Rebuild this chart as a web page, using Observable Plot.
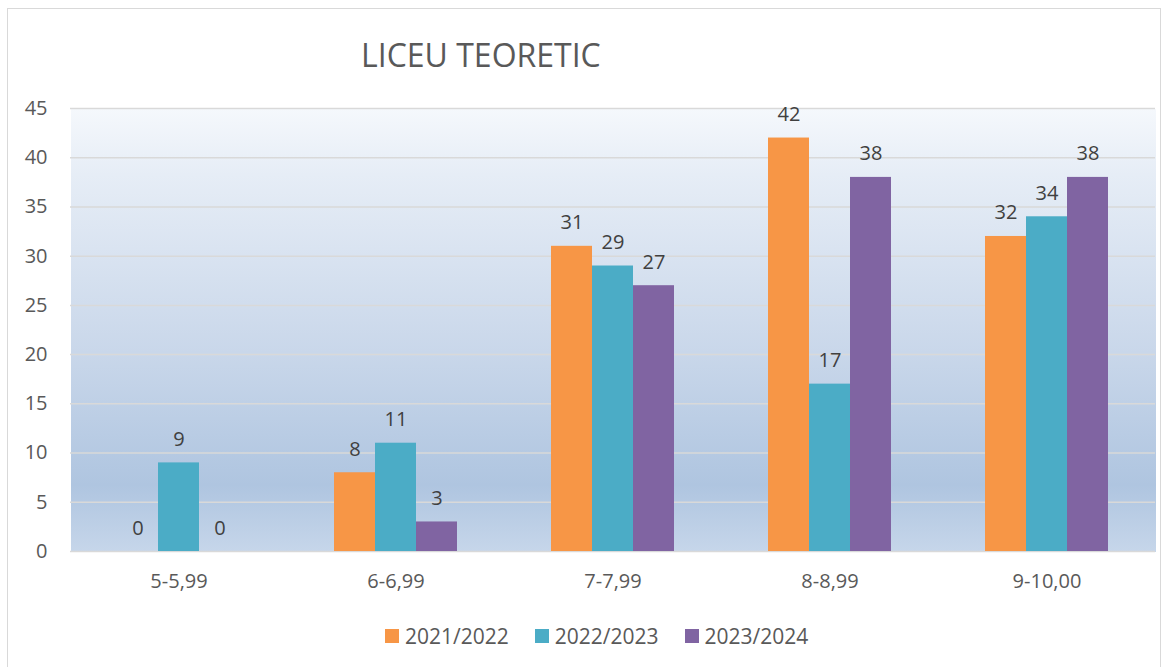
<!DOCTYPE html>
<html>
<head>
<meta charset="utf-8">
<script src="https://cdn.jsdelivr.net/npm/d3@7"></script>
<script src="https://cdn.jsdelivr.net/npm/@observablehq/plot@0.6"></script>
<style>
  body { margin: 0; background: #fff; font-family: "Open Sans", sans-serif; }
  #wrap { position: relative; width: 1169px; height: 667px; overflow: hidden; }
  #border { position: absolute; left: 7px; top: 8px; width: 1154px; height: 700px; border: 1.5px solid #d9d9d9; box-sizing: border-box; }
  #title { position: absolute; left: 361px; top: 33px; font-size: 32px; color: #595959; white-space: nowrap; }
  #chart { position: absolute; left: 0; top: 0; }
  #legend { position: absolute; left: 385px; top: 624px; height: 24px; display: flex; align-items: center; font-size: 21px; color: #595959; }
  .item { display: flex; align-items: center; margin-right: 26px; }
  .sw { width: 14px; height: 14px; margin-right: 6px; }
</style>
</head>
<body>
<div id="wrap">
  <div id="border"></div>
  <div id="chart"></div>
  <div id="title">LICEU TEORETIC</div>
  <div id="legend"></div>
</div>
<script>
const categories = ["5-5,99", "6-6,99", "7-7,99", "8-8,99", "9-10,00"];
const series = ["2021/2022", "2022/2023", "2023/2024"];
const values2021 = [0, 8, 31, 42, 32];
const values2022 = [9, 11, 29, 17, 34];
const values2023 = [0, 3, 27, 38, 38];
const colors = ["#F79646", "#4BACC6", "#8064A2"];
const yTicks = [0, 5, 10, 15, 20, 25, 30, 35, 40, 45];

const seriesValues = [values2021, values2022, values2023];
const data = categories.flatMap((c, i) =>
  series.map((s, j) => ({ category: c, series: s, value: seriesValues[j][i] }))
);

const chart = Plot.plot({
  width: 1169,
  height: 600,
  marginLeft: 70,
  marginRight: 14,
  marginTop: 108,
  marginBottom: 49,
  style: { fontFamily: "Open Sans, sans-serif", fontSize: "20px", color: "#595959", background: "transparent" },
  fx: { domain: categories, padding: 0, label: null, axis: "bottom", tickSize: 0, tickPadding: 22 },
  x: { domain: series, paddingInner: 0, paddingOuter: 1.1, axis: null },
  y: { domain: [0, 45], ticks: yTicks, tickSize: 0, tickPadding: 23, label: null },
  color: { domain: series, range: colors },
  marks: [
    Plot.frame({ fill: "url(#bgGrad)", stroke: null, shapeRendering: "crispEdges" }),
    Plot.ruleY(yTicks, { stroke: "#d9d9d9", strokeWidth: 1.5 }),
    Plot.barY(data, { fx: "category", x: "series", y: "value", fill: "series" }),
    Plot.text(data, { fx: "category", x: "series", y: "value", text: d => String(d.value), lineAnchor: "bottom", dy: -17, fill: "#404040", fontSize: 20 })
  ]
});

const defs = d3.select(chart).insert("defs", ":first-child");
const grad = defs.append("linearGradient").attr("id", "bgGrad").attr("x1", 0).attr("y1", 0).attr("x2", 0).attr("y2", 1);
[[0, "#f5f8fc"], [0.15, "#e6edf6"], [0.55, "#c9d7ea"], [0.85, "#afc5e0"], [1, "#c6d6ea"]].forEach(([o, c]) =>
  grad.append("stop").attr("offset", o).attr("stop-color", c)
);

document.getElementById("chart").appendChild(chart);

const legend = d3.select("#legend");
series.forEach((s, i) => {
  const it = legend.append("div").attr("class", "item");
  it.append("div").attr("class", "sw").style("background", colors[i]);
  it.append("span").text(s);
});
</script>
</body>
</html>
